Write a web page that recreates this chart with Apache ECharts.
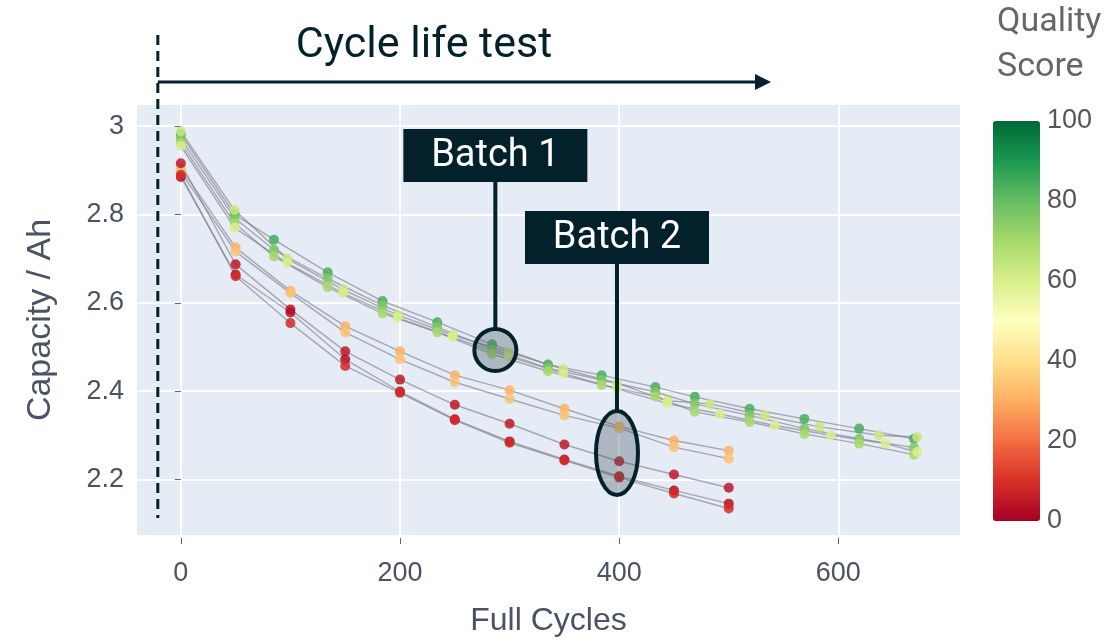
<!DOCTYPE html>
<html>
<head>
<meta charset="utf-8">
<script src="https://cdn.jsdelivr.net/npm/echarts@6/dist/echarts.min.js"></script>
<style>
  html, body { margin: 0; padding: 0; background: #fff; }
  #chart { width: 1115px; height: 642px; }
</style>
</head>
<body>
<div id="chart"></div>
<script>
// measurement points (full cycles)
const batch1Cycles = [0, 49, 85, 134, 184, 234, 284, 335, 384, 433, 469, 519, 569, 619, 669];
const batch1CyclesB = [0, 49, 97, 148, 198, 248, 299, 349, 398, 444, 483, 533, 583, 637, 672];
const batch1CyclesC = [0, 49, 97, 148, 198, 248, 299, 349, 398, 444, 492, 542, 593, 643, 672];
const batch2Cycles = [0, 50, 100, 150, 200, 250, 300, 350, 400, 450, 500];

// capacity (Ah) per cell
const cellG1 = [2.982, 2.800, 2.743, 2.669, 2.604, 2.556, 2.506, 2.460, 2.436, 2.409, 2.387, 2.360, 2.337, 2.315, 2.292];
const cellG2 = [2.972, 2.792, 2.720, 2.655, 2.594, 2.545, 2.495, 2.452, 2.425, 2.398, 2.371, 2.345, 2.315, 2.292, 2.272];
const cellG3 = [2.962, 2.780, 2.705, 2.635, 2.576, 2.533, 2.484, 2.445, 2.414, 2.388, 2.353, 2.330, 2.303, 2.281, 2.256];
const cellY1 = [2.988, 2.810, 2.700, 2.630, 2.572, 2.527, 2.488, 2.450, 2.418, 2.378, 2.371, 2.344, 2.319, 2.300, 2.296];
const cellY2 = [2.955, 2.770, 2.690, 2.622, 2.566, 2.522, 2.478, 2.440, 2.405, 2.372, 2.348, 2.322, 2.300, 2.281, 2.262];
const cellO1 = [2.905, 2.725, 2.627, 2.547, 2.490, 2.436, 2.402, 2.360, 2.320, 2.288, 2.265];
const cellO2 = [2.896, 2.716, 2.622, 2.533, 2.472, 2.420, 2.382, 2.345, 2.316, 2.273, 2.247];
const cellR1 = [2.916, 2.687, 2.585, 2.490, 2.426, 2.369, 2.326, 2.279, 2.241, 2.211, 2.181];
const cellR2 = [2.885, 2.664, 2.578, 2.472, 2.399, 2.336, 2.286, 2.245, 2.207, 2.175, 2.145];
const cellR3 = [2.890, 2.660, 2.554, 2.457, 2.396, 2.334, 2.283, 2.243, 2.204, 2.168, 2.134];

// quality score per cell
const scores = [84, 76, 70, 63, 60, 31, 34, 5, 3, 9];

const xTicks = [0, 200, 400, 600];
const yTicks = [2.2, 2.4, 2.6, 2.8, 3];

const cellCycles = [batch1Cycles, batch1Cycles, batch1Cycles, batch1CyclesB, batch1CyclesC,
  batch2Cycles, batch2Cycles, batch2Cycles, batch2Cycles, batch2Cycles];
const cellCaps = [cellG1, cellG2, cellG3, cellY1, cellY2, cellO1, cellO2, cellR1, cellR2, cellR3];

const rdYlGn = ['#a50026', '#d73027', '#f46d43', '#fdae61', '#fee08b', '#ffffbf',
  '#d9ef8b', '#a6d96a', '#66bd63', '#1a9850', '#006837'];

const dark = '#03212a';
const tickColor = '#4a5263';

let points = [];
let series = [];
cellCaps.forEach((caps, i) => {
  const line = caps.map((c, j) => [cellCycles[i][j], c]);
  series.push({
    type: 'line',
    data: line,
    showSymbol: false,
    silent: true,
    z: 1,
    lineStyle: { color: 'rgba(120,120,130,0.6)', width: 1.4 }
  });
  caps.forEach((c, j) => points.push([cellCycles[i][j], c, scores[i]]));
});
series.unshift({
  type: 'scatter',
  data: points,
  symbolSize: 10,
  z: 3,
  itemStyle: { opacity: 0.85 }
});

const option = {
  animation: false,
  backgroundColor: '#fff',
  textStyle: { fontFamily: 'Liberation Sans, Arial, sans-serif' },
  grid: [
    { left: 137, right: 155, top: 105, bottom: 105, show: true, backgroundColor: '#e5ecf6', borderWidth: 0 },
    { left: 993, width: 47, top: 121, height: 400 }
  ],
  xAxis: [
    {
      type: 'value', min: -40, max: 711, splitNumber: 4, offset: 3,
      name: 'Full Cycles', nameLocation: 'middle', nameGap: 67,
      nameTextStyle: { fontSize: 32, color: tickColor },
      axisLine: { show: false },
      axisTick: { show: true, length: 6, lineStyle: { color: '#666' }, customValues: xTicks },
      axisLabel: { fontSize: 27, color: tickColor, margin: 22, customValues: xTicks },
      splitLine: { lineStyle: { color: '#fff', width: 2 } }
    },
    { gridIndex: 1, type: 'value', show: false, min: 0, max: 1 }
  ],
  yAxis: [
    {
      type: 'value', min: 2.074, max: 3.048, splitNumber: 5, offset: 3,
      name: 'Capacity / Ah', nameLocation: 'middle', nameGap: 76,
      nameTextStyle: { fontSize: 34, color: tickColor },
      axisLine: { show: false },
      axisTick: { show: true, length: 6, lineStyle: { color: '#666' }, customValues: yTicks },
      axisLabel: { fontSize: 27, color: tickColor, margin: 10, customValues: yTicks },
      splitLine: { lineStyle: { color: '#fff', width: 2 } }
    },
    {
      gridIndex: 1, type: 'value', position: 'right', min: 0, max: 100, interval: 20,
      axisLine: { show: false }, axisTick: { show: false }, splitLine: { show: false },
      axisLabel: { fontSize: 27, color: '#555', margin: 7 }
    }
  ],
  visualMap: {
    type: 'continuous', min: 0, max: 100, dimension: 2, seriesIndex: 0,
    left: 993, top: 121, itemWidth: 47, itemHeight: 400, padding: 0,
    calculable: false, text: ['', ''], showLabel: false,
    inRange: { color: rdYlGn }
  },
  series: series
};

const chart = echarts.init(document.getElementById('chart'));
chart.setOption(option);

// annotation anchors in data coordinates
const startPx = chart.convertToPixel({ gridIndex: 0 }, [-21, 3]);
const b1 = chart.convertToPixel({ gridIndex: 0 }, [287, 2.493]);
const b2 = chart.convertToPixel({ gridIndex: 0 }, [398, 2.260]);
const font = 'Roboto, sans-serif';

chart.setOption({
  graphic: [
    { type: 'line', z: 50, shape: { x1: startPx[0], y1: 35, x2: startPx[0], y2: 518 },
      style: { stroke: dark, lineWidth: 3, lineDash: [10, 6] } },
    { type: 'line', z: 50, shape: { x1: startPx[0], y1: 82, x2: 757, y2: 82 },
      style: { stroke: dark, lineWidth: 3 } },
    { type: 'polygon', z: 50, shape: { points: [[755, 74], [771, 82], [755, 90]] },
      style: { fill: dark } },
    { type: 'text', z: 50, x: 424, y: 46,
      style: { text: 'Cycle life test', fill: dark, fontSize: 43, fontFamily: font, align: 'center', verticalAlign: 'middle' } },

    { type: 'rect', z: 50, shape: { x: b1[0] - 92, y: 129, width: 184, height: 53 }, style: { fill: dark } },
    { type: 'text', z: 51, x: b1[0], y: 156,
      style: { text: 'Batch 1', fill: '#fff', fontSize: 38, fontFamily: font, align: 'center', verticalAlign: 'middle' } },
    { type: 'line', z: 50, shape: { x1: b1[0], y1: 182, x2: b1[0], y2: b1[1] - 21 }, style: { stroke: dark, lineWidth: 4 } },
    { type: 'circle', z: 50, shape: { cx: b1[0], cy: b1[1], r: 21 },
      style: { fill: 'rgba(70,90,100,0.35)', stroke: dark, lineWidth: 4 } },

    { type: 'rect', z: 50, shape: { x: b2[0] - 92, y: 211, width: 184, height: 53 }, style: { fill: dark } },
    { type: 'text', z: 51, x: b2[0], y: 238,
      style: { text: 'Batch 2', fill: '#fff', fontSize: 38, fontFamily: font, align: 'center', verticalAlign: 'middle' } },
    { type: 'line', z: 50, shape: { x1: b2[0], y1: 264, x2: b2[0], y2: b2[1] - 42 }, style: { stroke: dark, lineWidth: 4 } },
    { type: 'ellipse', z: 50, shape: { cx: b2[0], cy: b2[1], rx: 21, ry: 42 },
      style: { fill: 'rgba(70,90,100,0.35)', stroke: dark, lineWidth: 4 } },

    { type: 'text', z: 50, x: 997, y: 22,
      style: { text: 'Quality', fill: '#666', fontSize: 34, fontFamily: font, align: 'left', verticalAlign: 'middle' } },
    { type: 'text', z: 50, x: 997, y: 67,
      style: { text: 'Score', fill: '#666', fontSize: 34, fontFamily: font, align: 'left', verticalAlign: 'middle' } }
  ]
});
</script>
</body>
</html>
